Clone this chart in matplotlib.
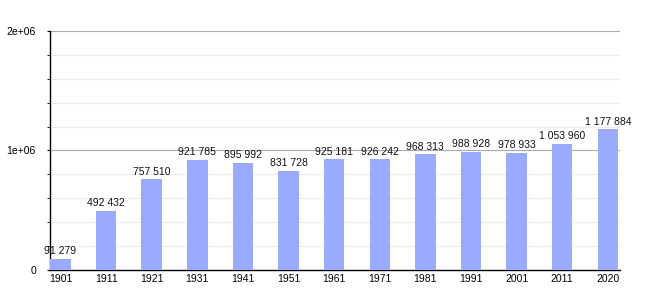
import matplotlib
matplotlib.use("Agg")
import matplotlib.pyplot as plt
from matplotlib.ticker import MultipleLocator, FixedFormatter, FixedLocator

years = ["1901", "1911", "1921", "1931", "1941", "1951", "1961",
         "1971", "1981", "1991", "2001", "2011", "2020"]
population = [91279, 492432, 757510, 921785, 895992, 831728, 925181,
              926242, 968313, 988928, 978933, 1053960, 1177884]
ytick_labels = ["0", "1e+06", "2e+06"]

plt.rcParams["font.family"] = ["Liberation Sans", "DejaVu Sans"]


def fmt(v):
    # space as thousands separator
    return f"{v:,}".replace(",", " ")


fig = plt.figure(figsize=(6.5, 3.0), dpi=100)
ax = fig.add_axes([0.077, 0.1, 0.877, 0.797])

x = list(range(len(years)))
ax.bar(x, population, width=0.45, color="#99aaff", zorder=3)
for xi, v in zip(x, population):
    ax.text(xi, v + 22000, fmt(v), ha="center", va="bottom", fontsize=7.5,
            color="#111111", zorder=4)

ax.set_xlim(-0.23, 12.27)
ax.set_ylim(0, 2e6)
ax.set_xticks(x)
ax.set_xticklabels(years, fontsize=7.5)
ax.yaxis.set_major_locator(FixedLocator([0, 1e6, 2e6]))
ax.yaxis.set_major_formatter(FixedFormatter(ytick_labels))
ax.yaxis.set_minor_locator(MultipleLocator(2e5))
ax.tick_params(axis="y", which="major", labelsize=7.5, length=2.2, pad=8)
ax.tick_params(axis="y", which="minor", length=2.2)
ax.tick_params(axis="x", length=0, pad=3)

ax.grid(axis="y", which="minor", color="#ececec", linewidth=0.8, zorder=0)
ax.grid(axis="y", which="major", color="#aaaaaa", linewidth=0.8, zorder=1)

for side in ["top", "right"]:
    ax.spines[side].set_visible(False)
ax.spines["left"].set_linewidth(1.0)
ax.spines["bottom"].set_linewidth(1.0)

fig.savefig("out.png", dpi=100)
